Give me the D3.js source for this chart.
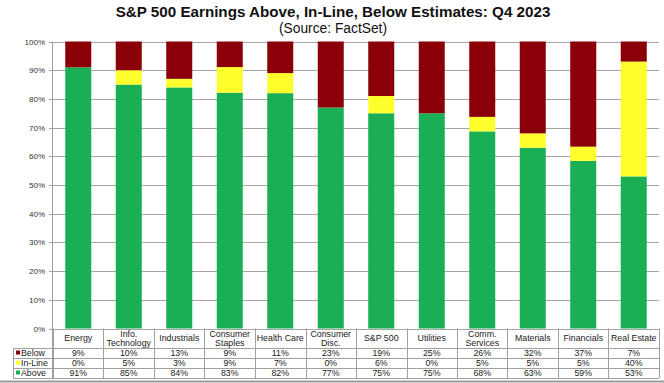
<!DOCTYPE html>
<html><head><meta charset="utf-8">
<script src="https://cdn.jsdelivr.net/npm/d3@7/dist/d3.min.js"></script>
<style>body{margin:0;background:#fff}svg{display:block;font-family:"Liberation Sans",Arial,sans-serif}</style>
</head><body><svg id="c" width="664" height="383"></svg>
<script>
const categories = ["Energy","Info.\nTechnology","Industrials","Consumer\nStaples","Health Care","Consumer\nDisc.","S&P 500","Utilities","Comm.\nServices","Materials","Financials","Real Estate"];
const below = [9,10,13,9,11,23,19,25,26,32,37,7];
const inline = [0,5,3,9,7,0,6,0,5,5,5,40];
const above = [91,85,84,83,82,77,75,75,68,63,59,53];
const seriesNames = ["Below","In-Line","Above"];
const yTicks = [0,10,20,30,40,50,60,70,80,90,100];
const colors = {"Above":"#1aaf54","In-Line":"#ffff2e","Below":"#8b0008"};

const svg = d3.select("#c");
const L = 53, R = 659, T = 41.5, B = 328.5;
const rows = categories.map((c,i)=>({cat:c, "Above":above[i], "In-Line":inline[i], "Below":below[i]}));
const x = d3.scaleBand().domain(categories).range([L,R]).paddingInner(0.485).paddingOuter(0.2425);
const y = d3.scaleLinear().domain([0,1]).range([B,T]);

svg.append("text").attr("x",333).attr("y",16.5).attr("text-anchor","middle").attr("font-size",15.2).attr("font-weight","bold").attr("fill","#111").text("S&P 500 Earnings Above, In-Line, Below Estimates: Q4 2023");
svg.append("text").attr("x",333).attr("y",32.5).attr("text-anchor","middle").attr("font-size",13.8).attr("fill","#111").text("(Source: FactSet)");

// gridlines
svg.append("g").selectAll("line").data(yTicks).join("line")
  .attr("x1",L-4).attr("x2",R).attr("y1",d=>Math.round(y(d/100))+0.5).attr("y2",d=>Math.round(y(d/100))+0.5)
  .attr("stroke","#a6a6a6").attr("stroke-width",1);
svg.append("g").selectAll("text").data(yTicks).join("text")
  .attr("x",45).attr("y",d=>y(d/100)+3).attr("text-anchor","end").attr("font-size",8).attr("fill","#333")
  .text(d=>d+"%");

// stacked bars
const stack = d3.stack().keys(["Above","In-Line","Below"]).offset(d3.stackOffsetExpand);
const stacked = stack(rows);
svg.append("g").selectAll("g").data(stacked).join("g").attr("fill",s=>colors[s.key])
  .selectAll("rect").data(s=>s).join("rect")
  .attr("x",d=>x(d.data.cat)).attr("width",x.bandwidth())
  .attr("y",d=>y(d[1])).attr("height",d=>Math.max(0,y(d[0])-y(d[1])));

// axis line
svg.append("line").attr("x1",L-0.5).attr("x2",L-0.5).attr("y1",T).attr("y2",B+50).attr("stroke","#a0a0a0");

// data table
const tb = svg.append("g");
const rowY = [B, 348, 358, 368, 378];
const step = x.step();
[1,2,3,4].forEach(i=>tb.append("line").attr("x1",13).attr("x2",R).attr("y1",rowY[i]+0.5).attr("y2",rowY[i]+0.5).attr("stroke","#a0a0a0"));
tb.selectAll("line.v").data(categories).join("line").attr("class","v")
  .attr("x1",d=>Math.round(x(d)-step*x.paddingOuter())+0.5).attr("x2",d=>Math.round(x(d)-step*x.paddingOuter())+0.5)
  .attr("y1",B).attr("y2",rowY[4]).attr("stroke","#a0a0a0");
tb.append("line").attr("x1",R+0.5).attr("x2",R+0.5).attr("y1",B).attr("y2",rowY[4]).attr("stroke","#a0a0a0");
tb.append("line").attr("x1",13.5).attr("x2",13.5).attr("y1",rowY[1]).attr("y2",rowY[4]).attr("stroke","#a0a0a0");

const fs = 8.8;
categories.forEach(c=>{
  const cx = x(c)+x.bandwidth()/2;
  const lines = c.split("\n");
  const t = tb.append("text").attr("text-anchor","middle").attr("font-size",fs).attr("fill","#222");
  if(lines.length===1){ t.append("tspan").attr("x",cx).attr("y",341).text(lines[0]); }
  else { t.append("tspan").attr("x",cx).attr("y",336.5).text(lines[0]); t.append("tspan").attr("x",cx).attr("y",345.5).text(lines[1]); }
});
const vals = {"Below":below,"In-Line":inline,"Above":above};
seriesNames.forEach((s,ri)=>{
  const yy = rowY[ri+1]+8;
  tb.append("rect").attr("x",16).attr("y",yy-5.5).attr("width",4).attr("height",4).attr("fill",colors[s]);
  tb.append("text").attr("x",21).attr("y",yy).attr("font-size",fs).attr("fill","#222").text(s);
  categories.forEach((c,i)=>{
    tb.append("text").attr("x",x(c)+x.bandwidth()/2).attr("y",yy).attr("text-anchor","middle").attr("font-size",fs).attr("fill","#222").text(vals[s][i]+"%");
  });
});
svg.append("line").attr("x1",0).attr("x2",664).attr("y1",381.5).attr("y2",381.5).attr("stroke","#9a9a9a").attr("stroke-width",2);
</script></body></html>
